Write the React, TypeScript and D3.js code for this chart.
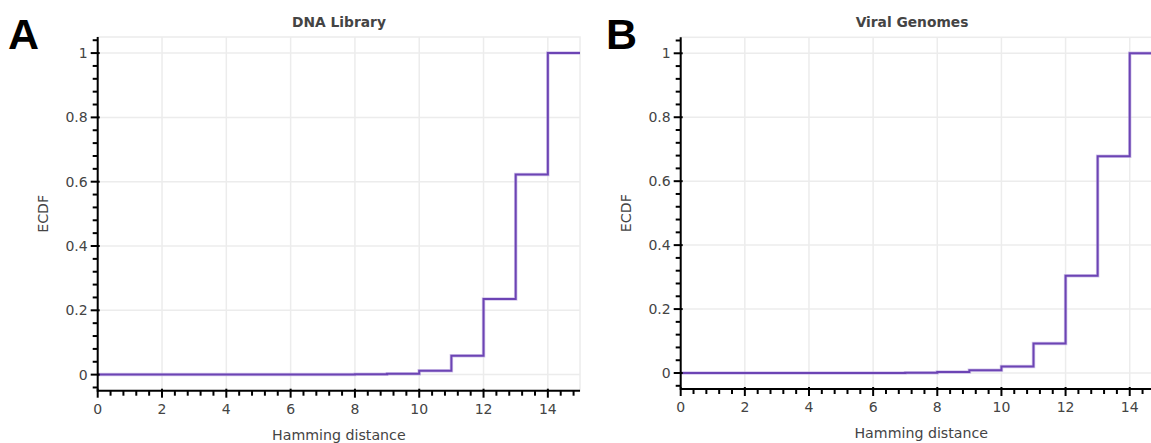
import React from "react";
import * as d3 from "d3";

// Hamming distance values (x) shared by both panels
const distances = [0, 1, 2, 3, 4, 5, 6, 7, 8, 9, 10, 11, 12, 13, 14, 15];
// Empirical CDF of pairwise Hamming distances
const ecdfLibrary = [0, 0, 0, 0, 0, 0, 0, 0.0005, 0.001, 0.003, 0.012, 0.059, 0.235, 0.622, 1, 1];
const ecdfViral = [0, 0, 0, 0, 0, 0, 0, 0.001, 0.003, 0.009, 0.02, 0.092, 0.304, 0.678, 1, 1];

const xTicks = [0, 2, 4, 6, 8, 10, 12, 14];
const yTicks = [0, 0.2, 0.4, 0.6, 0.8, 1];
const xDomain: [number, number] = [0, 15];
const yDomain: [number, number] = [-0.05, 1.05];

const FONT = "'DejaVu Sans', Verdana, sans-serif";
const LETTER_FONT = "'Liberation Sans', Arial, Helvetica, sans-serif";
const TEXT = "#444";
const GRID = "#ececec";
const LINE = "#6c44b4";

type PanelProps = {
  letter: string;
  title: string;
  values: number[];
  left: number;
  right: number;
  top: number;
  bottom: number;
  letterX: number;
  titleX: number;
};

function Panel({ letter, title, values, left, right, top, bottom, letterX, titleX }: PanelProps) {
  const x = d3.scaleLinear().domain(xDomain).range([left, right]);
  const y = d3.scaleLinear().domain(yDomain).range([bottom, top]);

  const xMinor = d3.range(0, 15.001, 0.4).filter((v) => Math.abs(v / 2 - Math.round(v / 2)) > 1e-6);
  const yMinor = d3.range(-0.04, 1.0401, 0.04).filter((v) => Math.abs(v / 0.2 - Math.round(v / 0.2)) > 1e-6);

  const line = d3
    .line<number>()
    .x((_, i) => x(distances[i]))
    .y((d) => y(d))
    .curve(d3.curveStepAfter);
  const path = line(values) || "";

  const clipId = `clip-${letter}`;

  return (
    <g>
      <defs>
        <clipPath id={clipId}>
          <rect x={left} y={top} width={right - left} height={bottom - top} />
        </clipPath>
      </defs>
      {/* frame outline */}
      <rect x={left} y={top} width={right - left} height={bottom - top} fill="none" stroke={GRID} strokeWidth={1.5} />
      {/* grid */}
      {xTicks.map((t) => (
        <line key={`gx${t}`} x1={x(t)} x2={x(t)} y1={top} y2={bottom} stroke={GRID} strokeWidth={1.5} />
      ))}
      {yTicks.map((t) => (
        <line key={`gy${t}`} x1={left} x2={right} y1={y(t)} y2={y(t)} stroke={GRID} strokeWidth={1.5} />
      ))}
      {/* ECDF step line */}
      <g clipPath={`url(#${clipId})`}>
        <path d={path} fill="none" stroke="#b9a3df" strokeWidth={3.5} strokeOpacity={0.6} />
        <path d={path} fill="none" stroke={LINE} strokeWidth={2} />
      </g>
      {/* x axis */}
      <line x1={left} x2={right} y1={bottom} y2={bottom} stroke="#000" strokeWidth={2} />
      {xTicks.map((t) => (
        <g key={`xt${t}`}>
          <line x1={x(t)} x2={x(t)} y1={bottom - 2} y2={bottom + 7} stroke="#000" strokeWidth={2} />
          <text x={x(t)} y={bottom + 23} textAnchor="middle" fontSize={14} fill={TEXT} fontFamily={FONT}>
            {t}
          </text>
        </g>
      ))}
      {xMinor.map((t) => (
        <line key={`xm${t}`} x1={x(t)} x2={x(t)} y1={bottom} y2={bottom + 5} stroke="#000" strokeWidth={2} />
      ))}
      <text x={(left + right) / 2} y={bottom + 49} textAnchor="middle" fontSize={14.2} fill={TEXT} fontFamily={FONT}>
        Hamming distance
      </text>
      {/* y axis */}
      <line x1={left} x2={left} y1={top} y2={bottom + 1} stroke="#000" strokeWidth={2} />
      {yTicks.map((t) => (
        <g key={`yt${t}`}>
          <line x1={left + 2} x2={left - 7} y1={y(t)} y2={y(t)} stroke="#000" strokeWidth={2} />
          <text
            x={left - 10}
            y={y(t)}
            dy="0.36em"
            textAnchor="end"
            fontSize={14}
            fill={TEXT}
            fontFamily={FONT}
          >
            {d3.format("~g")(t)}
          </text>
        </g>
      ))}
      {yMinor.map((t) => (
        <line key={`ym${t}`} x1={left} x2={left - 5} y1={y(t)} y2={y(t)} stroke="#000" strokeWidth={2} />
      ))}
      <text
        transform={`translate(${left - 50},${(top + bottom) / 2}) rotate(-90)`}
        textAnchor="middle"
        fontSize={14.2}
        fill={TEXT}
        fontFamily={FONT}
      >
        ECDF
      </text>
      {/* title */}
      <text x={titleX} y={27} textAnchor="middle" fontSize={13.8} fontWeight="bold" fill={TEXT} fontFamily={FONT}>
        {title}
      </text>
      {/* panel letter */}
      <text x={letterX} y={49} fontSize={43} fontWeight="bold" fill="#000" fontFamily={LETTER_FONT}>
        {letter}
      </text>
    </g>
  );
}

export default function App() {
  return (
    <div style={{ position: "absolute", left: 0, top: 0, width: 1151, height: 443, background: "#fff" }}>
      <svg width={1151} height={443} style={{ display: "block" }}>
        <rect width={1151} height={443} fill="#fff" />
        <Panel
          letter="A"
          title="DNA Library"
          values={ecdfLibrary}
          left={97.7}
          right={580}
          top={37}
          bottom={390.7}
          letterX={8}
          titleX={339}
        />
        <Panel
          letter="B"
          title="Viral Genomes"
          values={ecdfViral}
          left={680.7}
          right={1161.8}
          top={37.3}
          bottom={389}
          letterX={606}
          titleX={912}
        />
      </svg>
    </div>
  );
}
